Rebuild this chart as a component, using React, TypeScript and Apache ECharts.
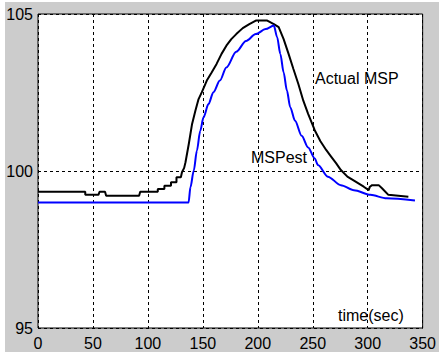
import React, { useEffect, useRef } from "react";
import * as echarts from "echarts";

// Measured mass-flow set point (staircase sensor trace)
const actualMsp: [number, number][] = [
  [0, 99.34], [43, 99.34], [43, 99.24], [55, 99.24], [56, 99.34], [61, 99.34],
  [62, 99.21], [92, 99.21], [93, 99.34], [109, 99.34], [109, 99.43], [115, 99.43],
  [115, 99.53], [121, 99.53], [121, 99.64], [126, 99.64], [126, 99.8], [130, 99.8],
  [131, 99.96], [133, 100.1], [134.2, 100.28], [137.2, 100.86], [140.2, 101.5],
  [143.2, 101.92], [146.1, 102.29], [149.1, 102.51], [153.6, 102.88], [158, 103.14],
  [162.5, 103.41], [167, 103.73], [171.4, 103.99], [175.9, 104.2], [180.4, 104.36],
  [186.3, 104.55], [192.3, 104.68], [198.2, 104.79], [208.6, 104.79], [214.6, 104.68],
  [219, 104.58], [223.5, 104.2], [228, 103.73], [232.4, 103.25], [236.9, 102.77],
  [241.4, 102.24], [245.8, 101.82], [251.8, 101.3], [257, 100.95], [262.2, 100.67],
  [266.7, 100.46], [271.2, 100.25], [275.6, 100.03], [281.5, 99.82], [289, 99.66],
  [296.4, 99.5], [300.9, 99.39], [302, 99.5], [304, 99.55], [310, 99.55],
  [313, 99.45], [318.8, 99.24], [337, 99.18],
];

// Estimated set point
const mspEst: [number, number][] = [
  [0, 99.0], [137, 99.0], [138.7, 99.48], [141.7, 100.01], [144.6, 100.65],
  [147.6, 101.28], [150.6, 101.71], [155.1, 102.13], [159.6, 102.51], [165.5, 102.88],
  [171.4, 103.3], [180.4, 103.8], [189.3, 104.14], [198.2, 104.36], [207.1, 104.52],
  [214.6, 104.63], [217.6, 104.26], [220.5, 103.73], [223.5, 103.14], [226.5, 102.56],
  [229.5, 102.03], [233.9, 101.6], [239.9, 101.12], [245.8, 100.75], [251.8, 100.4],
  [254.7, 100.19], [263.7, 99.82], [275.6, 99.55], [287.5, 99.39], [302.4, 99.24],
  [317.3, 99.13], [343, 99.06],
];

const xTicks = { min: 0, max: 350, interval: 50 };
const yTicks = { min: 95, max: 105, interval: 5 };

const FONT = "Liberation Sans, Arial, sans-serif";

export default function App() {
  const ref = useRef<HTMLDivElement>(null);

  useEffect(() => {
    if (!ref.current) return;
    const chart = echarts.init(ref.current, null, { renderer: "svg" });
    const dashed = { type: [3, 3] as number[], color: "#000", width: 1 };
    chart.setOption({
      animation: false,
      backgroundColor: "#fff",
      graphic: [
        {
          type: "rect",
          z: -10,
          silent: true,
          shape: { x: 5, y: 2, width: 434, height: 350 },
          style: { fill: "#cccccc" },
        },
        {
          type: "text",
          left: 315,
          top: 70,
          style: { text: "Actual MSP", font: `16px ${FONT}`, fill: "#000" },
          z: 10,
        },
        {
          type: "text",
          left: 251,
          top: 149,
          style: { text: "MSPest", font: `16px ${FONT}`, fill: "#000" },
          z: 10,
        },
        {
          type: "text",
          left: 338,
          top: 307,
          style: { text: "time(sec)", font: `16px ${FONT}`, fill: "#000" },
          z: 10,
        },
      ],
      grid: {
        left: 38,
        top: 14,
        width: 391,
        height: 314,
        show: true,
        backgroundColor: "#fff",
        borderColor: "#000",
        borderWidth: 1,
        containLabel: false,
      },
      xAxis: {
        type: "value",
        ...xTicks,
        axisLine: { show: false },
        axisTick: { show: false },
        axisLabel: { color: "#000", fontSize: 16, fontFamily: FONT, margin: 7, showMaxLabel: true },
        splitLine: { show: true, lineStyle: dashed },
      },
      yAxis: {
        type: "value",
        ...yTicks,
        axisLine: { show: false },
        axisTick: { show: false },
        axisLabel: { color: "#000", fontSize: 16, fontFamily: FONT, margin: 5 },
        splitLine: { show: true, lineStyle: dashed },
      },
      series: [
        {
          name: "Actual MSP",
          type: "line",
          data: actualMsp,
          showSymbol: false,
          lineStyle: { color: "#000", width: 2 },
          z: 3,
        },
        {
          name: "MSPest",
          type: "line",
          data: mspEst,
          showSymbol: false,
          smooth: 0.3,
          smoothMonotone: "x",
          lineStyle: { color: "#0000ff", width: 2 },
          z: 4,
        },
      ],
    });
    return () => chart.dispose();
  }, []);

  return (
    <div
      ref={ref}
      style={{ position: "fixed", left: 0, top: 0, width: 439, height: 353 }}
    />
  );
}
